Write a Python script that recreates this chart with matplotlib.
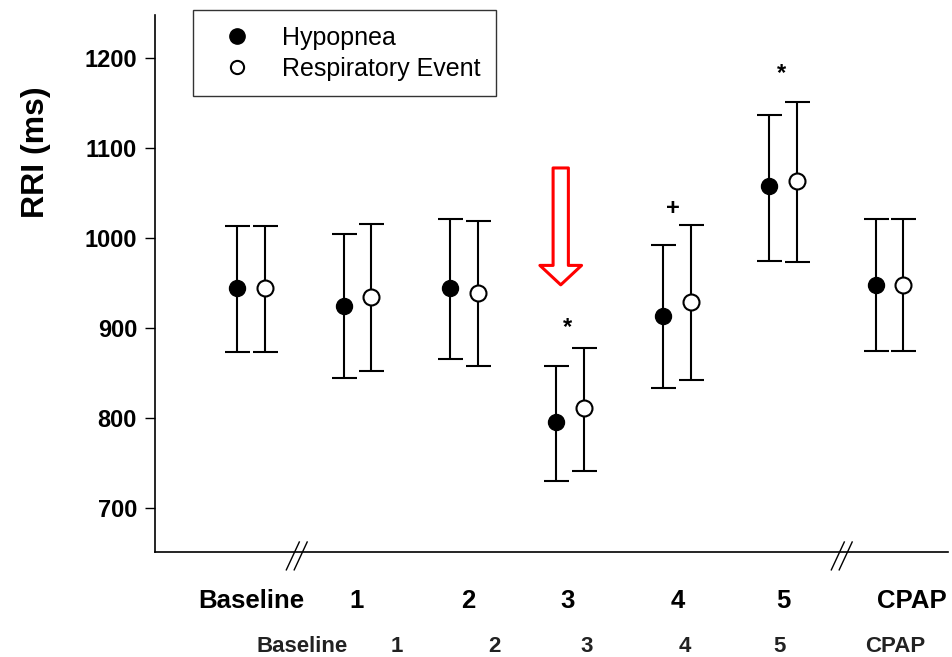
import numpy as np
import matplotlib
matplotlib.use('Agg')
import matplotlib.pyplot as plt
from matplotlib.lines import Line2D

plt.rcParams['font.family'] = ['Liberation Sans', 'DejaVu Sans']

# data
groups = ['Baseline', '1', '2', '3', '4', '5', 'CPAP']
hyp_mean = [944, 925, 944, 796, 913, 1058, 948]
hyp_low = [873, 844, 866, 730, 833, 975, 874]
hyp_high = [1013, 1004, 1021, 858, 992, 1137, 1021]
resp_mean = [944, 935, 939, 811, 929, 1063, 948]
resp_low = [873, 852, 858, 741, 842, 973, 874]
resp_high = [1013, 1016, 1019, 878, 1015, 1151, 1021]

# significance marks (label, x, y)
marks = [('*', 3.1, 901), ('+', 4.09, 1033), ('*', 5.11, 1183)]

# label rows (positions in x units)
row1_pos = [0.13, 1.12, 2.17, 3.10, 4.14, 5.13, 6.34]
row2_pos = [0.61, 1.50, 2.42, 3.28, 4.21, 5.10, 6.18]

x = np.arange(len(groups))
off = 0.26

fig = plt.figure(figsize=(9.52, 6.57), dpi=100)
ax = fig.add_axes([0.163, 0.16, 0.833, 0.817])

hm = np.array(hyp_mean); rm = np.array(resp_mean)
ax.errorbar(x, hm, yerr=[hm - np.array(hyp_low), np.array(hyp_high) - hm],
            fmt='o', color='black', ms=11.5, capsize=9, elinewidth=1.5, capthick=1.5,
            mfc='black', mec='black', zorder=3)
ax.errorbar(x + off, rm, yerr=[rm - np.array(resp_low), np.array(resp_high) - rm],
            fmt='o', color='black', ms=11.5, capsize=9, elinewidth=1.5, capthick=1.5,
            mfc='white', mec='black', mew=1.5, zorder=3)

for s, mx, my in marks:
    ax.text(mx, my, s, ha='center', va='center', fontsize=17, fontweight='bold')

# red hollow arrow
ax.annotate('', xy=(3.04, 948), xytext=(3.04, 1078),
            arrowprops=dict(arrowstyle='simple,head_length=14,head_width=30,tail_width=11',
                            fc='white', ec='red', lw=2.2, shrinkA=0, shrinkB=0,
                            mutation_scale=1))

ax.set_xlim(-0.77, 6.68)
ax.set_ylim(651, 1248)
ax.set_yticks([700, 800, 900, 1000, 1100, 1200])
ax.tick_params(axis='y', direction='out', length=7, width=1, labelsize=17, pad=6)
for lab in ax.get_yticklabels():
    lab.set_fontweight('bold')
ax.set_ylabel('RRI (ms)', fontsize=23, fontweight='bold')
ax.yaxis.set_label_coords(-0.131, 0.745)

ax.set_xticks(row1_pos)
ax.set_xticklabels(groups, fontsize=18.5, fontweight='bold')
ax.tick_params(axis='x', length=0, pad=27)
for p, g in zip(row2_pos, groups):
    ax.text(p, -0.177, g, transform=ax.get_xaxis_transform(), ha='center', va='center',
            fontsize=16, fontweight='bold', color='#222222')

ax.spines['top'].set_visible(False)
ax.spines['right'].set_visible(False)
for sp in ['left', 'bottom']:
    ax.spines[sp].set_linewidth(1.2)

# axis break marks
for bx in [0.56, 5.68]:
    for d in [-0.037, 0.037]:
        ax.plot([bx + d - 0.061, bx + d + 0.061], [631, 662], color='black', lw=1,
                clip_on=False)

handles = [Line2D([], [], marker='o', ls='none', color='black', ms=11, mfc='black'),
           Line2D([], [], marker='o', ls='none', color='black', ms=9.5, mfc='white', mew=1.5)]
leg = ax.legend(handles, ['Hypopnea', 'Respiratory Event'], loc='upper left',
                bbox_to_anchor=(0.048, 1.009), fontsize=18, frameon=True, fancybox=False,
                borderpad=0.62, handlelength=2.28, handletextpad=0.66, labelspacing=0.28,
                borderaxespad=0)
leg.get_frame().set_edgecolor('black')
leg.get_frame().set_linewidth(1)

fig.savefig('out.png', dpi=100)
